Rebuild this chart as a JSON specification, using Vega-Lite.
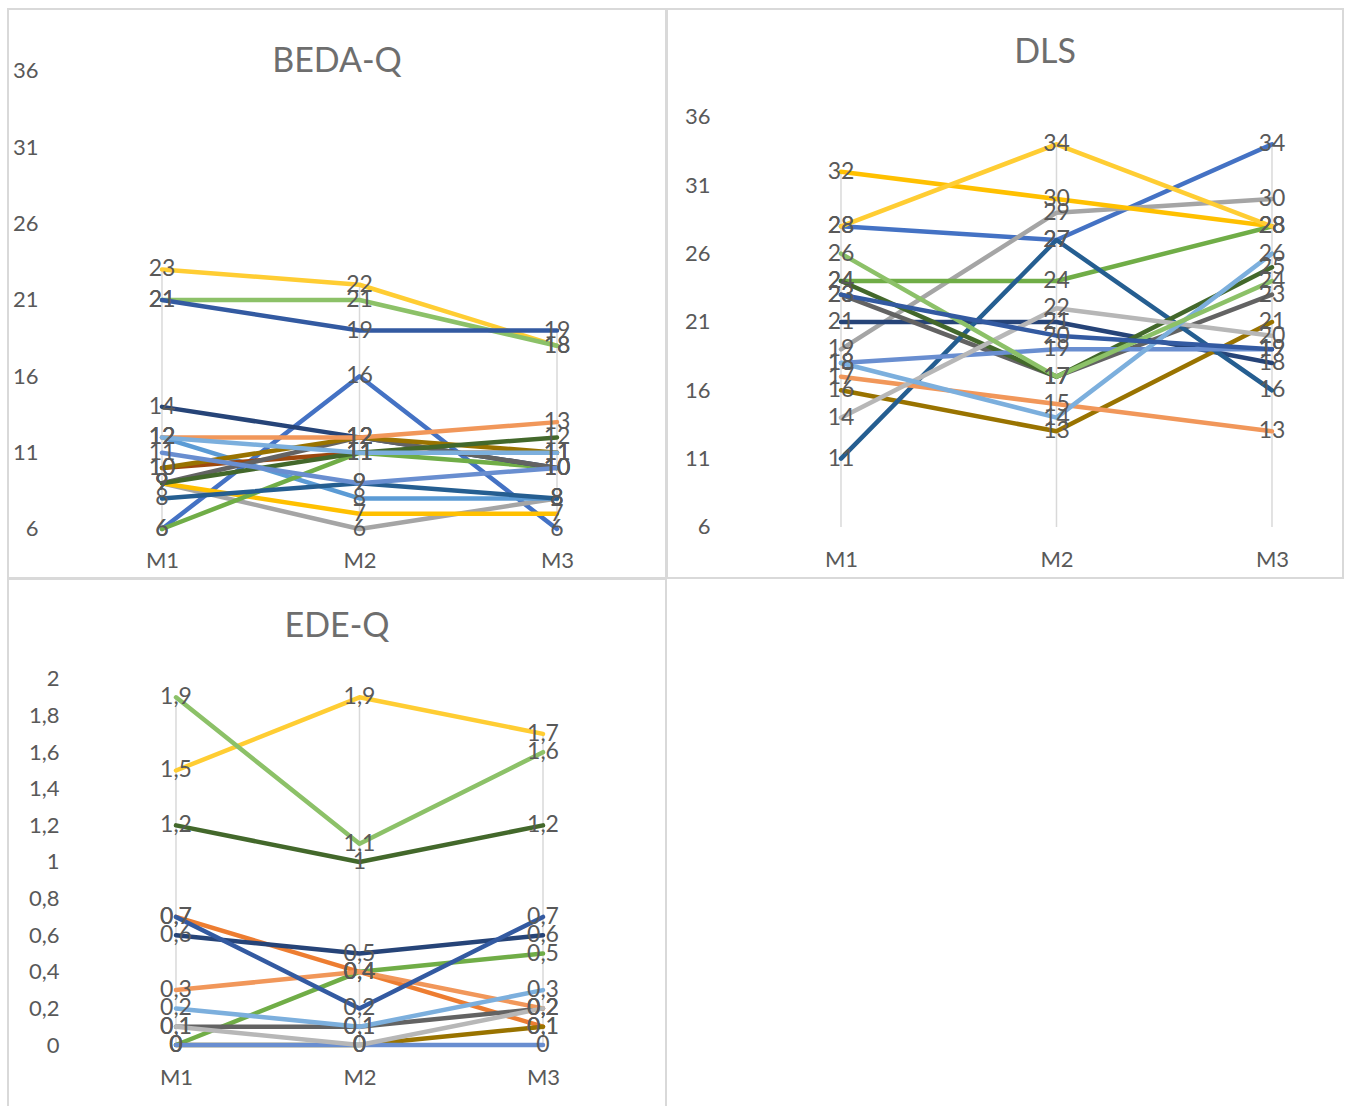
{
  "$schema": "https://vega.github.io/schema/vega-lite/v6.json",
  "padding": {"left": 7, "top": 8, "right": 0, "bottom": 0},
  "background": "white",
  "spacing": -3,
  "config": {
    "locale": {"number": {"decimal": ",", "thousands": ".", "grouping": [3], "currency": ["", " €"]}},
    "view": {"stroke": "#d9d9d9", "strokeWidth": 2},
    "font": "Lato",
    "axis": {"domain": false, "ticks": false, "grid": false, "labelColor": "#595959", "labelFontSize": 22, "labelFont": "Lato", "labelPadding": 0, "title": null},
    "title": {"color": "#6e6e6e", "fontSize": 34, "fontWeight": "normal", "font": "Lato"}
  },
  "datasets": {
    "beda": [
      {"s": "s01", "m": 1, "v": 6}, {"s": "s01", "m": 2, "v": 16}, {"s": "s01", "m": 3, "v": 6},
      {"s": "s03", "m": 1, "v": 9}, {"s": "s03", "m": 2, "v": 6}, {"s": "s03", "m": 3, "v": 8},
      {"s": "s04", "m": 1, "v": 9}, {"s": "s04", "m": 2, "v": 7}, {"s": "s04", "m": 3, "v": 7},
      {"s": "s05", "m": 1, "v": 12}, {"s": "s05", "m": 2, "v": 8}, {"s": "s05", "m": 3, "v": 8},
      {"s": "s06", "m": 1, "v": 6}, {"s": "s06", "m": 2, "v": 11}, {"s": "s06", "m": 3, "v": 10},
      {"s": "s07", "m": 1, "v": 14}, {"s": "s07", "m": 2, "v": 12}, {"s": "s07", "m": 3, "v": 10},
      {"s": "s08", "m": 1, "v": 10}, {"s": "s08", "m": 2, "v": 11}, {"s": "s08", "m": 3, "v": 11},
      {"s": "s09", "m": 1, "v": 9}, {"s": "s09", "m": 2, "v": 12}, {"s": "s09", "m": 3, "v": 10},
      {"s": "s10", "m": 1, "v": 10}, {"s": "s10", "m": 2, "v": 12}, {"s": "s10", "m": 3, "v": 11},
      {"s": "s11", "m": 1, "v": 8}, {"s": "s11", "m": 2, "v": 9}, {"s": "s11", "m": 3, "v": 8},
      {"s": "s12", "m": 1, "v": 9}, {"s": "s12", "m": 2, "v": 11}, {"s": "s12", "m": 3, "v": 12},
      {"s": "s13", "m": 1, "v": 11}, {"s": "s13", "m": 2, "v": 9}, {"s": "s13", "m": 3, "v": 10},
      {"s": "s14", "m": 1, "v": 12}, {"s": "s14", "m": 2, "v": 12}, {"s": "s14", "m": 3, "v": 13},
      {"s": "s16", "m": 1, "v": 23}, {"s": "s16", "m": 2, "v": 22}, {"s": "s16", "m": 3, "v": 18},
      {"s": "s17", "m": 1, "v": 12}, {"s": "s17", "m": 2, "v": 11}, {"s": "s17", "m": 3, "v": 11},
      {"s": "s18", "m": 1, "v": 21}, {"s": "s18", "m": 2, "v": 21}, {"s": "s18", "m": 3, "v": 18},
      {"s": "s19", "m": 1, "v": 21}, {"s": "s19", "m": 2, "v": 19}, {"s": "s19", "m": 3, "v": 19}
    ],
    "dls": [
      {"s": "s01", "m": 1, "v": 28}, {"s": "s01", "m": 2, "v": 27}, {"s": "s01", "m": 3, "v": 34},
      {"s": "s03", "m": 1, "v": 19}, {"s": "s03", "m": 2, "v": 29}, {"s": "s03", "m": 3, "v": 30},
      {"s": "s04", "m": 1, "v": 32}, {"s": "s04", "m": 2, "v": 30}, {"s": "s04", "m": 3, "v": 28},
      {"s": "s06", "m": 1, "v": 24}, {"s": "s06", "m": 2, "v": 24}, {"s": "s06", "m": 3, "v": 28},
      {"s": "s07", "m": 1, "v": 21}, {"s": "s07", "m": 2, "v": 21}, {"s": "s07", "m": 3, "v": 18},
      {"s": "s09", "m": 1, "v": 23}, {"s": "s09", "m": 2, "v": 17}, {"s": "s09", "m": 3, "v": 23},
      {"s": "s10", "m": 1, "v": 16}, {"s": "s10", "m": 2, "v": 13}, {"s": "s10", "m": 3, "v": 21},
      {"s": "s11", "m": 1, "v": 11}, {"s": "s11", "m": 2, "v": 27}, {"s": "s11", "m": 3, "v": 16},
      {"s": "s12", "m": 1, "v": 24}, {"s": "s12", "m": 2, "v": 17}, {"s": "s12", "m": 3, "v": 25},
      {"s": "s13", "m": 1, "v": 18}, {"s": "s13", "m": 2, "v": 19}, {"s": "s13", "m": 3, "v": 19},
      {"s": "s14", "m": 1, "v": 17}, {"s": "s14", "m": 2, "v": 15}, {"s": "s14", "m": 3, "v": 13},
      {"s": "s15", "m": 1, "v": 14}, {"s": "s15", "m": 2, "v": 22}, {"s": "s15", "m": 3, "v": 20},
      {"s": "s16", "m": 1, "v": 28}, {"s": "s16", "m": 2, "v": 34}, {"s": "s16", "m": 3, "v": 28},
      {"s": "s17", "m": 1, "v": 18}, {"s": "s17", "m": 2, "v": 14}, {"s": "s17", "m": 3, "v": 26},
      {"s": "s18", "m": 1, "v": 26}, {"s": "s18", "m": 2, "v": 17}, {"s": "s18", "m": 3, "v": 24},
      {"s": "s19", "m": 1, "v": 23}, {"s": "s19", "m": 2, "v": 20}, {"s": "s19", "m": 3, "v": 19}
    ],
    "ede": [
      {"s": "s02", "m": 1, "v": 0.7}, {"s": "s02", "m": 2, "v": 0.4}, {"s": "s02", "m": 3, "v": 0.1},
      {"s": "s06", "m": 1, "v": 0}, {"s": "s06", "m": 2, "v": 0.4}, {"s": "s06", "m": 3, "v": 0.5},
      {"s": "s07", "m": 1, "v": 0.6}, {"s": "s07", "m": 2, "v": 0.5}, {"s": "s07", "m": 3, "v": 0.6},
      {"s": "s09", "m": 1, "v": 0.1}, {"s": "s09", "m": 2, "v": 0.1}, {"s": "s09", "m": 3, "v": 0.2},
      {"s": "s10", "m": 1, "v": 0}, {"s": "s10", "m": 2, "v": 0}, {"s": "s10", "m": 3, "v": 0.1},
      {"s": "s12", "m": 1, "v": 1.2}, {"s": "s12", "m": 2, "v": 1}, {"s": "s12", "m": 3, "v": 1.2},
      {"s": "s13", "m": 1, "v": 0}, {"s": "s13", "m": 2, "v": 0}, {"s": "s13", "m": 3, "v": 0},
      {"s": "s14", "m": 1, "v": 0.3}, {"s": "s14", "m": 2, "v": 0.4}, {"s": "s14", "m": 3, "v": 0.2},
      {"s": "s15", "m": 1, "v": 0.1}, {"s": "s15", "m": 2, "v": 0}, {"s": "s15", "m": 3, "v": 0.2},
      {"s": "s16", "m": 1, "v": 1.5}, {"s": "s16", "m": 2, "v": 1.9}, {"s": "s16", "m": 3, "v": 1.7},
      {"s": "s17", "m": 1, "v": 0.2}, {"s": "s17", "m": 2, "v": 0.1}, {"s": "s17", "m": 3, "v": 0.3},
      {"s": "s18", "m": 1, "v": 1.9}, {"s": "s18", "m": 2, "v": 1.1}, {"s": "s18", "m": 3, "v": 1.6},
      {"s": "s19", "m": 1, "v": 0.7}, {"s": "s19", "m": 2, "v": 0.2}, {"s": "s19", "m": 3, "v": 0.7}
    ]
  },
  "vconcat": [
    {
      "spacing": -2,
      "hconcat": [
        {
          "width": 658, "height": 569,
          "title": {"text": "BEDA-Q", "offset": -87, "baseline": "middle"},
          "data": {"name": "beda"},
          "encoding": {
            "x": {"field": "m", "type": "quantitative", "scale": {"domain": [0.2203, 3.5519], "nice": false, "zero": false},
                  "axis": {"values": [1, 2, 3], "labelExpr": "'M' + datum.value", "offset": -18, "labelBaseline": "middle"}},
            "y": {"field": "v", "type": "quantitative", "scale": {"domain": [2.79, 40.061], "nice": false, "zero": false},
                  "axis": {"values": [6, 11, 16, 21, 26, 31, 36], "format": "d", "offset": -30, "labelAlign": "right", "labelBaseline": "middle"}}
          },
          "layer": [
            {"data": {"values": [{}]},
             "mark": {"type": "rect", "clip": true, "fill": {"gradient": "linear", "x1": 0, "y1": 0, "x2": 0, "y2": 1, "stops": [{"offset": 0, "color": "#fdfdfd"}, {"offset": 1, "color": "#efefef"}]}},
             "encoding": {"x": {"datum": 0.5}, "x2": {"datum": 3.5}, "y": {"datum": 6}, "y2": {"datum": 32.07}}},
            {"mark": {"type": "rule", "color": "#d9d9d9", "strokeWidth": 1.5},
             "encoding": {"y": {"aggregate": "max", "field": "v", "type": "quantitative"}, "y2": {"datum": 6}}},
            {"data": {"values": [{}]},
             "mark": {"type": "rule", "color": "#d9d9d9", "strokeWidth": 2, "clip": true},
             "encoding": {"x": {"datum": 0.5}, "x2": {"datum": 3.5}, "y": {"datum": 6}}},
            {"mark": {"type": "line", "strokeWidth": 4.5, "strokeJoin": "round", "strokeCap": "round"},
             "encoding": {"color": {"field": "s", "type": "nominal", "legend": null,
               "scale": {"domain": ["s01","s02","s03","s04","s05","s06","s07","s08","s09","s10","s11","s12","s13","s14","s15","s16","s17","s18","s19"],
                         "range": ["#4472C4","#ED7D31","#A5A5A5","#FFC000","#5B9BD5","#70AD47","#264478","#9E480E","#636363","#997300","#255E91","#43682B","#698ED0","#F1975A","#B7B7B7","#FFCD33","#7CAFDD","#8CC168","#335AA1"]}}}},
            {"mark": {"type": "text", "color": "#595959", "fontSize": 23, "align": "center", "baseline": "middle", "font": "Lato"},
             "encoding": {"text": {"field": "v", "type": "quantitative", "format": ".2~f"}}}
          ]
        },
        {
          "width": 676, "height": 569,
          "title": {"text": "DLS", "offset": -78, "baseline": "middle", "dx": 40},
          "data": {"name": "dls"},
          "encoding": {
            "x": {"field": "m", "type": "quantitative", "scale": {"domain": [0.1926, 3.3295], "nice": false, "zero": false},
                  "axis": {"values": [1, 2, 3], "labelExpr": "'M' + datum.value", "offset": -19, "labelBaseline": "middle"}},
            "y": {"field": "v", "type": "quantitative", "scale": {"domain": [2.268, 43.902], "nice": false, "zero": false},
                  "axis": {"values": [6, 11, 16, 21, 26, 31, 36], "format": "d", "offset": -43, "labelAlign": "right", "labelBaseline": "middle"}}
          },
          "layer": [
            {"data": {"values": [{}]},
             "mark": {"type": "rect", "clip": true, "fill": {"gradient": "linear", "x1": 0, "y1": 0, "x2": 0, "y2": 1, "stops": [{"offset": 0, "color": "#fdfdfd"}, {"offset": 1, "color": "#efefef"}]}},
             "encoding": {"x": {"datum": 0.5}, "x2": {"datum": 3.5}, "y": {"datum": 6}, "y2": {"datum": 32.4}}},
            {"mark": {"type": "rule", "color": "#d9d9d9", "strokeWidth": 1.5},
             "encoding": {"y": {"aggregate": "max", "field": "v", "type": "quantitative"}, "y2": {"datum": 6}}},
            {"data": {"values": [{}]},
             "mark": {"type": "rule", "color": "#d9d9d9", "strokeWidth": 2, "clip": true},
             "encoding": {"x": {"datum": 0.5}, "x2": {"datum": 3.5}, "y": {"datum": 6}}},
            {"mark": {"type": "line", "strokeWidth": 4.5, "strokeJoin": "round", "strokeCap": "round"},
             "encoding": {"color": {"field": "s", "type": "nominal", "legend": null,
               "scale": {"domain": ["s01","s02","s03","s04","s05","s06","s07","s08","s09","s10","s11","s12","s13","s14","s15","s16","s17","s18","s19"],
                         "range": ["#4472C4","#ED7D31","#A5A5A5","#FFC000","#5B9BD5","#70AD47","#264478","#9E480E","#636363","#997300","#255E91","#43682B","#698ED0","#F1975A","#B7B7B7","#FFCD33","#7CAFDD","#8CC168","#335AA1"]}}}},
            {"mark": {"type": "text", "color": "#595959", "fontSize": 23, "align": "center", "baseline": "middle", "font": "Lato"},
             "encoding": {"text": {"field": "v", "type": "quantitative", "format": ".2~f"}}}
          ]
        }
      ]
    },
    {
      "width": 658, "height": 530,
      "title": {"text": "EDE-Q", "offset": -82, "baseline": "middle"},
      "data": {"name": "ede"},
      "encoding": {
        "x": {"field": "m", "type": "quantitative", "scale": {"domain": [0.0845, 3.6703], "nice": false, "zero": false},
              "axis": {"values": [1, 2, 3], "labelExpr": "'M' + datum.value", "offset": -32, "labelBaseline": "middle"}},
        "y": {"field": "v", "type": "quantitative", "scale": {"domain": [-0.3497, 2.5464], "nice": false, "zero": false},
              "axis": {"values": [0, 0.2, 0.4, 0.6, 0.8, 1, 1.2, 1.4, 1.6, 1.8, 2], "format": ".1~f", "offset": -51, "labelAlign": "right", "labelBaseline": "middle"}}
      },
      "layer": [
        {"data": {"values": [{}]},
         "mark": {"type": "rect", "clip": true, "fill": {"gradient": "linear", "x1": 0, "y1": 0, "x2": 0, "y2": 1, "stops": [{"offset": 0, "color": "#fdfdfd"}, {"offset": 1, "color": "#efefef"}]}},
         "encoding": {"x": {"datum": 0.5}, "x2": {"datum": 3.5}, "y": {"datum": 0}, "y2": {"datum": 1.743}}},
        {"mark": {"type": "rule", "color": "#d9d9d9", "strokeWidth": 1.5},
         "encoding": {"y": {"aggregate": "max", "field": "v", "type": "quantitative"}, "y2": {"datum": 0}}},
        {"data": {"values": [{}]},
         "mark": {"type": "rule", "color": "#d9d9d9", "strokeWidth": 2, "clip": true},
         "encoding": {"x": {"datum": 0.5}, "x2": {"datum": 3.5}, "y": {"datum": 0}}},
        {"mark": {"type": "line", "strokeWidth": 4.5, "strokeJoin": "round", "strokeCap": "round"},
         "encoding": {"color": {"field": "s", "type": "nominal", "legend": null,
           "scale": {"domain": ["s01","s02","s03","s04","s05","s06","s07","s08","s09","s10","s11","s12","s13","s14","s15","s16","s17","s18","s19"],
                     "range": ["#4472C4","#ED7D31","#A5A5A5","#FFC000","#5B9BD5","#70AD47","#264478","#9E480E","#636363","#997300","#255E91","#43682B","#698ED0","#F1975A","#B7B7B7","#FFCD33","#7CAFDD","#8CC168","#335AA1"]}}}},
        {"mark": {"type": "text", "color": "#595959", "fontSize": 23, "align": "center", "baseline": "middle", "font": "Lato"},
         "encoding": {"text": {"field": "v", "type": "quantitative", "format": ".2~f"}}}
      ]
    }
  ]
}
